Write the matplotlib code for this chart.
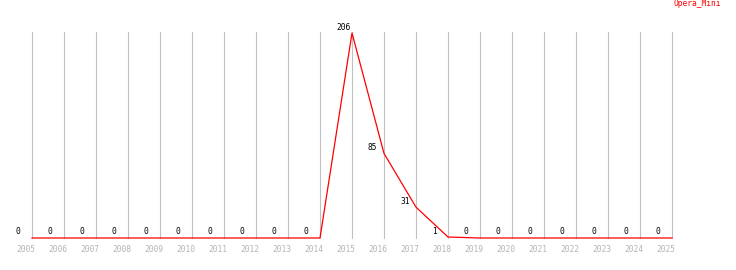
import matplotlib
matplotlib.use("Agg")
import matplotlib.pyplot as plt
import matplotlib.transforms as mtransforms

# data
years = list(range(2005, 2026))
values = [0, 0, 0, 0, 0, 0, 0, 0, 0, 0, 206, 85, 31, 1, 0, 0, 0, 0, 0, 0, 0]
series_name = "Opera_Mini"

W, H = 736, 270
fig = plt.figure(figsize=(W / 100, H / 100), dpi=100)
# x: 2005 -> px 32, 2025 -> px 672 ; y: 0 -> px 238, 206 -> px 33
ax = fig.add_axes([32 / W, (H - 238) / H, 640 / W, (238 - 33) / H])
ax.set_xlim(2005, 2025)
ax.set_ylim(0, 206)
ax.axis("off")

font = dict(family="DejaVu Sans Mono", fontsize=5.7)

# vertical grid lines
for yr in years:
    ax.plot([yr, yr], [0, 207], color="#c0c0c0", lw=0.8, clip_on=False, zorder=1)

ax.plot(years, values, color="#ff0000", lw=0.9, clip_on=False, zorder=3)

# value labels, left of each point
off = mtransforms.offset_copy(ax.transData, fig=fig, x=-16, y=1.5, units="dots")
for yr, v in zip(years, values):
    ax.text(yr, v, str(v), transform=off, ha="left", va="bottom",
            color="black", zorder=4, **font)

# year labels under the axis
lab = mtransforms.offset_copy(ax.transData, fig=fig, x=-6, y=-12, units="dots")
for yr in years:
    ax.text(yr, 0, str(yr), transform=lab, ha="center", va="center",
            color="#b4b4b4", **font)

fig.text(721 / W, 1 - 4 / H, series_name, ha="right", va="center",
         color="#ff0000", **font)

fig.savefig("out.png", dpi=100)
